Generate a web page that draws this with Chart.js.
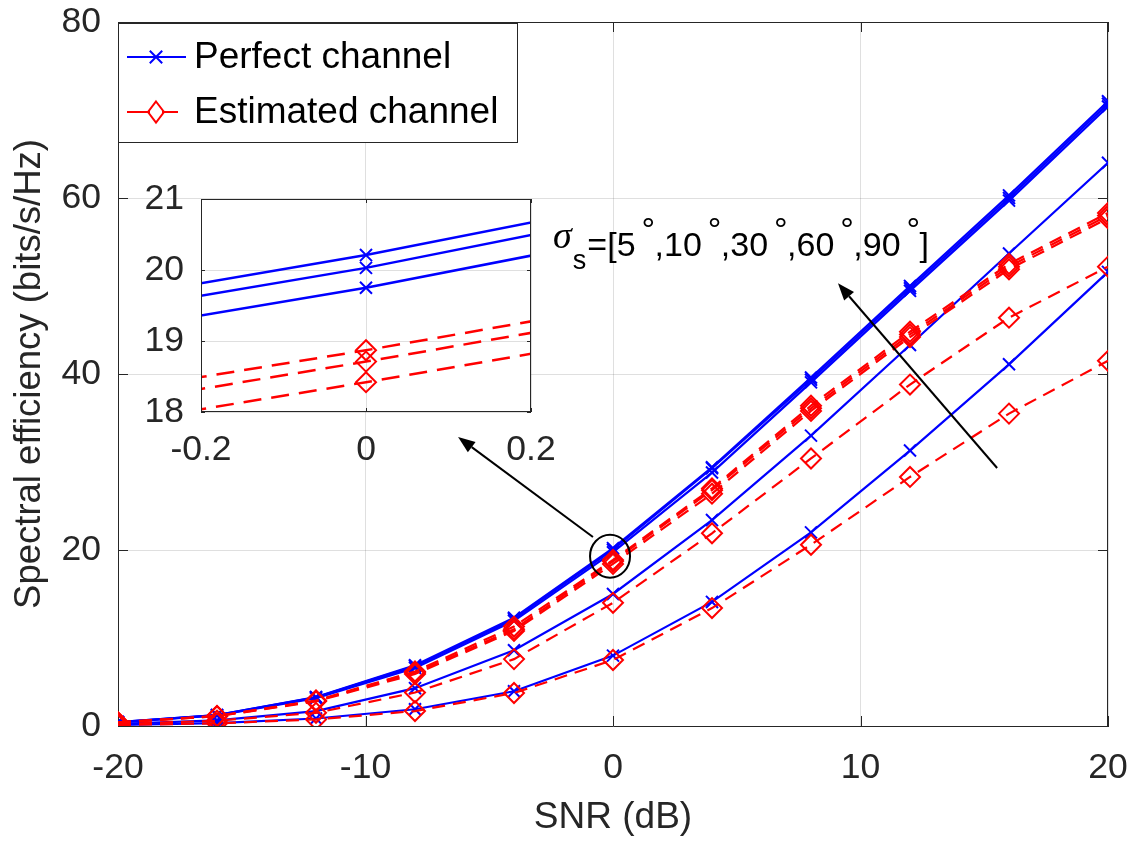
<!DOCTYPE html>
<html><head><meta charset="utf-8">
<script src="https://cdn.jsdelivr.net/npm/chart.js@4.4.1/dist/chart.umd.min.js"></script>
<style>
html,body{margin:0;padding:0;background:#fff;}
#wrap{position:relative;width:1134px;height:843px;overflow:hidden;}
#main{position:absolute;left:0;top:0;}
#inset{position:absolute;left:100px;top:150px;}
</style></head><body>
<div id="wrap"><canvas id="main" width="1134" height="843"></canvas><canvas id="inset" width="460" height="330"></canvas></div>
<script>
// ---------- data ----------
const snr = [-20,-16,-12,-8,-4,0,4,8,12,16,20];
const perfect5  = [0.45,1.25,3.30,6.90,12.30,20.21,29.40,39.60,50.00,60.30,71.00];
const perfect10 = [0.44,1.23,3.25,6.80,12.15,20.03,29.30,39.35,49.75,60.00,70.70];
const perfect30 = [0.42,1.20,3.15,6.60,11.95,19.75,28.80,39.05,49.45,59.70,70.40];
const perfect60 = [0.25,0.65,1.70,4.30,8.60,15.00,23.40,33.00,43.30,53.70,64.00];
const perfect90 = [0.12,0.33,0.85,1.90,3.95,8.00,14.10,22.00,31.30,41.10,51.60];
const estimated5  = [0.42,1.15,2.90,6.20,11.30,18.87,27.00,36.40,44.80,52.50,58.30];
const estimated10 = [0.41,1.12,2.85,6.05,11.00,18.71,26.80,36.10,44.50,52.20,58.00];
const estimated30 = [0.40,1.10,2.80,5.90,10.80,18.42,26.40,35.80,44.20,51.90,57.70];
const estimated60 = [0.22,0.60,1.50,3.80,7.60,14.00,21.90,30.40,38.80,46.40,52.20];
const estimated90 = [0.10,0.30,0.75,1.70,3.75,7.50,13.40,20.60,28.30,35.50,41.50];
const xTicks = [-20,-10,0,10,20];
const yTicks = [0,20,40,60,80];
const insetXTicks = [-0.2,0,0.2];
const insetYTicks = [18,19,20,21];
const legendLabels = ['Perfect channel','Estimated channel'];
const xTitle = 'SNR (dB)';
const yTitle = 'Spectral efficiency (bits/s/Hz)';
const sigmaSymbol = 'σ', sigmaSub = 's';
const angleTexts = ['=[5', ',10', ',30', ',60', ',90'];
const degreeText = '°', closeText = ']';

// ---------- styles ----------
const FONT = "'Liberation Sans', Arial, sans-serif";
Chart.defaults.font.family = FONT;
const AX = '#262626';
const GRID = 'rgba(38,38,38,0.15)';
const BLUE = '#0000ff', RED = '#ff0000';

function pts(ys){ return snr.map((x,i)=>({x:x, y:ys[i]})); }
function makeSets(inset){
  const lw = inset ? 2.5 : 2.2;
  const dash = inset ? [18,10] : [13,8];
  const red = [estimated5,estimated10,estimated30,estimated60,estimated90].map(a=>({
    data: pts(a), borderColor: RED, borderWidth: lw, borderDash: dash, tension: 0, fill: false,
    pointStyle: 'rectRot', pointRadius: 10, pointBorderWidth: 2, pointBorderColor: RED,
    pointBackgroundColor: 'rgba(0,0,0,0)', clip: inset ? 0 : undefined
  }));
  const blue = [perfect5,perfect10,perfect30,perfect60,perfect90].map(a=>({
    data: pts(a), borderColor: BLUE, borderWidth: lw, tension: 0, fill: false,
    pointStyle: 'crossRot', pointRadius: 8.5, pointBorderWidth: 2, pointBorderColor: BLUE,
    pointBackgroundColor: BLUE, clip: inset ? 0 : undefined
  }));
  return red.concat(blue);
}

// ---------- annotation geometry (data units of main axes) ----------
const annot = {
  circle: {x:-0.12, y:19.3, rx:20, ry:21.5},
  arrowInset: {from:[-0.81,21.48], to:[-6.26,32.84]},
  arrowSigma: {from:[15.52,29.32], to:[9.09,50.3]},
  label: {x:-2.42, y:53.4}
};

function arrow(ctx,x1,y1,x2,y2){
  const L=17, W=6.5;
  const ang=Math.atan2(y2-y1,x2-x1);
  const bx=x2-L*Math.cos(ang), by=y2-L*Math.sin(ang);
  ctx.beginPath(); ctx.moveTo(x1,y1); ctx.lineTo(bx,by); ctx.stroke();
  ctx.beginPath(); ctx.moveTo(x2,y2);
  ctx.lineTo(bx+W*Math.sin(ang), by-W*Math.cos(ang));
  ctx.lineTo(bx-W*Math.sin(ang), by+W*Math.cos(ang));
  ctx.closePath(); ctx.fill();
}

function inwardTicks(ctx,a,xs,ys,xv,yv,TL){
  ctx.beginPath();
  xv.forEach(v=>{const p=Math.round(xs.getPixelForValue(v))+0.5;
    ctx.moveTo(p,a.bottom); ctx.lineTo(p,a.bottom-TL); ctx.moveTo(p,a.top); ctx.lineTo(p,a.top+TL);});
  yv.forEach(v=>{const p=Math.round(ys.getPixelForValue(v))+0.5;
    ctx.moveTo(a.left,p); ctx.lineTo(a.left+TL,p); ctx.moveTo(a.right,p); ctx.lineTo(a.right-TL,p);});
  ctx.stroke();
}
function noPad(s){ s.paddingLeft=0; s.paddingRight=0; s.paddingTop=0; s.paddingBottom=0; }

const decorMain = {
  id:'decorMain',
  beforeDatasetsDraw(chart){
    const {ctx, chartArea:a, scales:{x,y}} = chart;
    ctx.save(); ctx.strokeStyle=AX; ctx.lineWidth=1;
    ctx.beginPath();
    ctx.moveTo(a.left,Math.round(a.top)+0.5); ctx.lineTo(a.right,Math.round(a.top)+0.5);
    ctx.moveTo(Math.round(a.right)-0.5,a.top); ctx.lineTo(Math.round(a.right)-0.5,a.bottom);
    ctx.stroke();
    inwardTicks(ctx,a,x,y,xTicks,yTicks,10);
    ctx.restore();
  },
  afterDatasetsDraw(chart){
    const {ctx, chartArea:a, scales:{x,y}} = chart;
    ctx.save();
    // legend
    const lx=a.left+0.5, ly=23.5, lw=399, lh=119;
    ctx.fillStyle='#fff'; ctx.fillRect(lx,ly,lw,lh);
    ctx.strokeStyle=AX; ctx.lineWidth=1; ctx.strokeRect(lx,ly,lw,lh);
    const rows=[57,112];
    ctx.strokeStyle=BLUE; ctx.lineWidth=2;
    ctx.beginPath(); ctx.moveTo(127,rows[0]); ctx.lineTo(186,rows[0]); ctx.stroke();
    const c=6.2;
    ctx.beginPath(); ctx.moveTo(156-c,rows[0]-c); ctx.lineTo(156+c,rows[0]+c);
    ctx.moveTo(156-c,rows[0]+c); ctx.lineTo(156+c,rows[0]-c); ctx.stroke();
    ctx.strokeStyle=RED;
    ctx.beginPath(); ctx.moveTo(127,rows[1]); ctx.lineTo(150,rows[1]); ctx.moveTo(162,rows[1]); ctx.lineTo(178,rows[1]); ctx.stroke();
    ctx.beginPath(); ctx.moveTo(156,rows[1]-10.5); ctx.lineTo(164,rows[1]); ctx.lineTo(156,rows[1]+10.5); ctx.lineTo(148,rows[1]); ctx.closePath(); ctx.stroke();
    ctx.fillStyle='#000'; ctx.font="37px "+FONT; ctx.textBaseline='middle'; ctx.textAlign='left';
    ctx.fillText(legendLabels[0],194,rows[0]+1);
    ctx.fillText(legendLabels[1],194,rows[1]+1);

    ctx.strokeStyle='#000'; ctx.fillStyle='#000'; ctx.lineWidth=2;
    const cx=x.getPixelForValue(annot.circle.x), cy=y.getPixelForValue(annot.circle.y);
    ctx.beginPath(); ctx.ellipse(cx,cy,annot.circle.rx,annot.circle.ry,0,0,Math.PI*2); ctx.stroke();
    const A1=annot.arrowInset, A2=annot.arrowSigma;
    arrow(ctx,x.getPixelForValue(A1.from[0]),y.getPixelForValue(A1.from[1]),x.getPixelForValue(A1.to[0]),y.getPixelForValue(A1.to[1]));
    arrow(ctx,x.getPixelForValue(A2.from[0]),y.getPixelForValue(A2.from[1]),x.getPixelForValue(A2.to[0]),y.getPixelForValue(A2.to[1]));
    let tx=x.getPixelForValue(annot.label.x);
    const base=y.getPixelForValue(annot.label.y);
    ctx.textBaseline='alphabetic'; ctx.textAlign='left'; ctx.fillStyle='#000';
    ctx.font="italic 38px 'Liberation Serif', serif";
    ctx.fillText(sigmaSymbol,tx,base-8);
    tx+=ctx.measureText(sigmaSymbol).width+1;
    ctx.font="27px "+FONT;
    ctx.fillText(sigmaSub,tx,base+13);
    tx+=ctx.measureText(sigmaSub).width+1;
    angleTexts.forEach(t=>{
      ctx.font="34px "+FONT;
      ctx.fillText(t,tx,base);
      tx+=ctx.measureText(t).width;
      ctx.fillText(degreeText,tx+6,base-15);
      tx+=19;
    });
    ctx.font="34px "+FONT;
    ctx.fillText(closeText,tx,base);
    ctx.restore();
  }
};

new Chart(document.getElementById('main'), {
  type:'line',
  data:{datasets:makeSets(false)},
  options:{
    responsive:false, animation:false, devicePixelRatio:1,
    layout:{padding:{left:0,right:26,top:22,bottom:0}},
    plugins:{legend:{display:false}, tooltip:{enabled:false}},
    scales:{
      x:{type:'linear', min:-20, max:20,
        afterBuildTicks:s=>{s.ticks=xTicks.map(v=>({value:v}));},
        afterFit:s=>{s.height=117; noPad(s);},
        grid:{color:GRID, lineWidth:1, drawTicks:false},
        border:{color:AX, width:1},
        ticks:{color:AX, font:{size:35.5}, padding:21, maxRotation:0, autoSkip:false, callback:v=>String(v)},
        title:{display:true, text:xTitle, color:AX, font:{size:37}, padding:{top:0,bottom:3}}
      },
      y:{type:'linear', min:0, max:80,
        afterBuildTicks:s=>{s.ticks=yTicks.map(v=>({value:v}));},
        afterFit:s=>{s.width=118; noPad(s);},
        grid:{color:GRID, lineWidth:1, drawTicks:false},
        border:{color:AX, width:1},
        ticks:{color:AX, font:{size:35.5}, padding:17, autoSkip:false, callback:v=>String(v)},
        title:{display:true, text:yTitle, color:AX, font:{size:36.5}, padding:{top:8,bottom:0}}
      }
    }
  },
  plugins:[decorMain]
});

const decorInset = {
  id:'decorInset',
  beforeDraw(chart){
    const {ctx, chartArea:a} = chart;
    ctx.save(); ctx.fillStyle='#fff'; ctx.fillRect(a.left,a.top,a.right-a.left,a.bottom-a.top); ctx.restore();
  },
  afterDatasetsDraw(chart){
    const {ctx, chartArea:a, scales:{x,y}} = chart;
    ctx.save(); ctx.strokeStyle=AX; ctx.lineWidth=1;
    ctx.strokeRect(Math.round(a.left)+0.5,Math.round(a.top)+0.5,Math.round(a.right-a.left)-1,Math.round(a.bottom-a.top)-1);
    inwardTicks(ctx,a,x,y,insetXTicks,insetYTicks,4);
    ctx.restore();
  }
};

new Chart(document.getElementById('inset'), {
  type:'line',
  data:{datasets:makeSets(true)},
  options:{
    responsive:false, animation:false, devicePixelRatio:1,
    layout:{padding:{left:0,right:29,top:49,bottom:0}},
    plugins:{legend:{display:false}, tooltip:{enabled:false}},
    scales:{
      x:{type:'linear', min:-0.2, max:0.2,
        afterBuildTicks:s=>{s.ticks=insetXTicks.map(v=>({value:v}));},
        afterFit:s=>{s.height=68; noPad(s);},
        grid:{color:GRID, lineWidth:1, drawTicks:false},
        border:{display:false},
        ticks:{color:AX, font:{size:35.5}, padding:17, maxRotation:0, autoSkip:false, callback:v=>String(v)}
      },
      y:{type:'linear', min:18, max:21,
        afterBuildTicks:s=>{s.ticks=insetYTicks.map(v=>({value:v}));},
        afterFit:s=>{s.width=101; noPad(s);},
        grid:{color:GRID, lineWidth:1, drawTicks:false},
        border:{display:false},
        ticks:{color:AX, font:{size:35.5}, padding:17, autoSkip:false, callback:v=>String(v)}
      }
    }
  },
  plugins:[decorInset]
});
</script>
</body></html>
